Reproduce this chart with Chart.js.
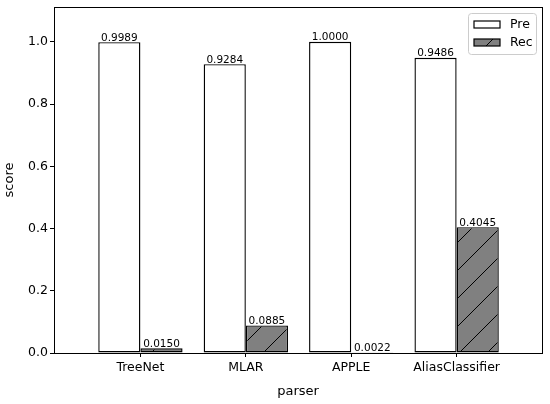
<!DOCTYPE html>
<html>
<head>
<meta charset="utf-8">
<script src="https://cdn.jsdelivr.net/npm/chart.js@4"></script>
<style>html,body{margin:0;padding:0;background:#fff}</style>
</head>
<body>
<canvas id="myChart" width="550" height="404"></canvas>
<script>
const parsers = ['TreeNet', 'MLAR', 'APPLE', 'AliasClassifier'];
const preScores = [0.9989, 0.9284, 1.0000, 0.9486];
const recScores = [0.0150, 0.0885, 0.0022, 0.4045];
const yTicks = [0, 0.2, 0.4, 0.6, 0.8, 1.0];

const FONT = 'DejaVu Sans';

// '/' hatch on grey, like matplotlib
function makeHatch() {
    const s = 28;
    const c = document.createElement('canvas');
    c.width = s; c.height = s;
    const g = c.getContext('2d');
    g.fillStyle = '#808080';
    g.fillRect(0, 0, s, s);
    g.strokeStyle = '#000';
    g.lineWidth = 1;
    g.beginPath();
    g.moveTo(-2, s + 2); g.lineTo(s + 2, -2);
    g.moveTo(-2, 2); g.lineTo(2, -2);
    g.moveTo(s - 2, s + 2); g.lineTo(s + 2, s - 2);
    g.stroke();
    return g.createPattern(c, 'repeat');
}
const hatch = makeHatch();

// frame round the plot area
const framePlugin = {
    id: 'frame',
    afterDatasetsDraw(chart) {
        const {ctx, chartArea: a} = chart;
        ctx.save();
        ctx.strokeStyle = '#000';
        ctx.lineWidth = 1;
        ctx.strokeRect(Math.round(a.left) + 0.5, Math.round(a.top) + 0.5,
            Math.round(a.right - a.left), Math.round(a.bottom - a.top));
        ctx.restore();
    }
};

// numbers on top of bars
const valuePlugin = {
    id: 'values',
    afterDatasetsDraw(chart) {
        const ctx = chart.ctx;
        ctx.save();
        ctx.font = '10.5px "' + FONT + '"';
        ctx.fillStyle = '#000';
        ctx.textAlign = 'center';
        ctx.textBaseline = 'bottom';
        chart.data.datasets.forEach((ds, di) => {
            chart.getDatasetMeta(di).data.forEach((bar, i) => {
                ctx.fillText(ds.data[i].y.toFixed(4), bar.x, bar.y + 1);
            });
        });
        ctx.restore();
    }
};

// legend box in the upper right corner
const legendPlugin = {
    id: 'boxLegend',
    afterDraw(chart) {
        const ctx = chart.ctx;
        const a = chart.chartArea;
        const x = a.right - 74, y = a.top + 6, w = 68, h = 41;
        ctx.save();
        ctx.fillStyle = 'rgba(255,255,255,0.8)';
        ctx.strokeStyle = '#cccccc';
        ctx.lineWidth = 1;
        ctx.beginPath();
        ctx.roundRect(x + 0.5, y + 0.5, w, h, 3);
        ctx.fill();
        ctx.stroke();
        ctx.font = '12.5px "' + FONT + '"';
        ctx.textBaseline = 'middle';
        chart.data.datasets.forEach((ds, i) => {
            const py = y + 8 + i * 18;
            ctx.fillStyle = ds.backgroundColor;
            ctx.fillRect(x + 6, py, 26, 7);
            ctx.strokeStyle = '#000';
            ctx.lineWidth = 1.2;
            ctx.strokeRect(x + 6, py, 26, 7);
            ctx.fillStyle = '#000';
            ctx.fillText(ds.label, x + 42, py + 4);
        });
        ctx.restore();
    }
};

const data = {
    datasets: [{
        label: 'Pre',
        data: preScores.map((v, i) => ({x: i, y: v})),
        backgroundColor: '#ffffff',
        borderColor: '#000000',
        borderWidth: 1.4,
        borderSkipped: false
    }, {
        label: 'Rec',
        data: recScores.map((v, i) => ({x: i, y: v})),
        backgroundColor: hatch,
        borderColor: '#000000',
        borderWidth: 1.4,
        borderSkipped: false
    }]
};

const config = {
    type: 'bar',
    data,
    plugins: [framePlugin, valuePlugin, legendPlugin],
    options: {
        responsive: false,
        animation: false,
        categoryPercentage: 0.8,
        barPercentage: 1.0,
        layout: {padding: {left: 0, top: 7, right: 8, bottom: 0}},
        plugins: {
            legend: {display: false},
            tooltip: {enabled: false}
        },
        scales: {
            x: {
                type: 'linear',
                min: -0.82,
                max: 3.81,
                offset: false,
                afterFit: (s) => { s.height = 51; },
                afterBuildTicks: (s) => { s.ticks = parsers.map((p, i) => ({value: i})); },
                ticks: {
                    color: '#000',
                    font: {family: FONT, size: 12.5},
                    padding: 3,
                    maxRotation: 0,
                    callback: (v) => parsers[v]
                },
                grid: {offset: false, drawOnChartArea: false, drawTicks: true, tickLength: 4, tickColor: '#000'},
                border: {display: false},
                title: {
                    display: true,
                    text: 'parser',
                    color: '#000',
                    font: {family: FONT, size: 13},
                    padding: {top: 4, bottom: 5}
                }
            },
            y: {
                min: 0,
                max: 1.112,
                afterFit: (s) => { s.width = 54; s.paddingTop = 0; s.paddingBottom = 0; },
                afterBuildTicks: (s) => { s.ticks = yTicks.map(v => ({value: v})); },
                ticks: {
                    color: '#000',
                    font: {family: FONT, size: 12.5},
                    padding: 2,
                    callback: (v) => v.toFixed(1)
                },
                grid: {drawOnChartArea: false, drawTicks: true, tickLength: 4, tickColor: '#000'},
                border: {display: false},
                title: {
                    display: true,
                    text: 'score',
                    color: '#000',
                    font: {family: FONT, size: 13},
                    padding: {top: 2, bottom: 0}
                }
            }
        }
    }
};

const myChart = new Chart(document.getElementById('myChart'), config);
</script>
</body>
</html>
